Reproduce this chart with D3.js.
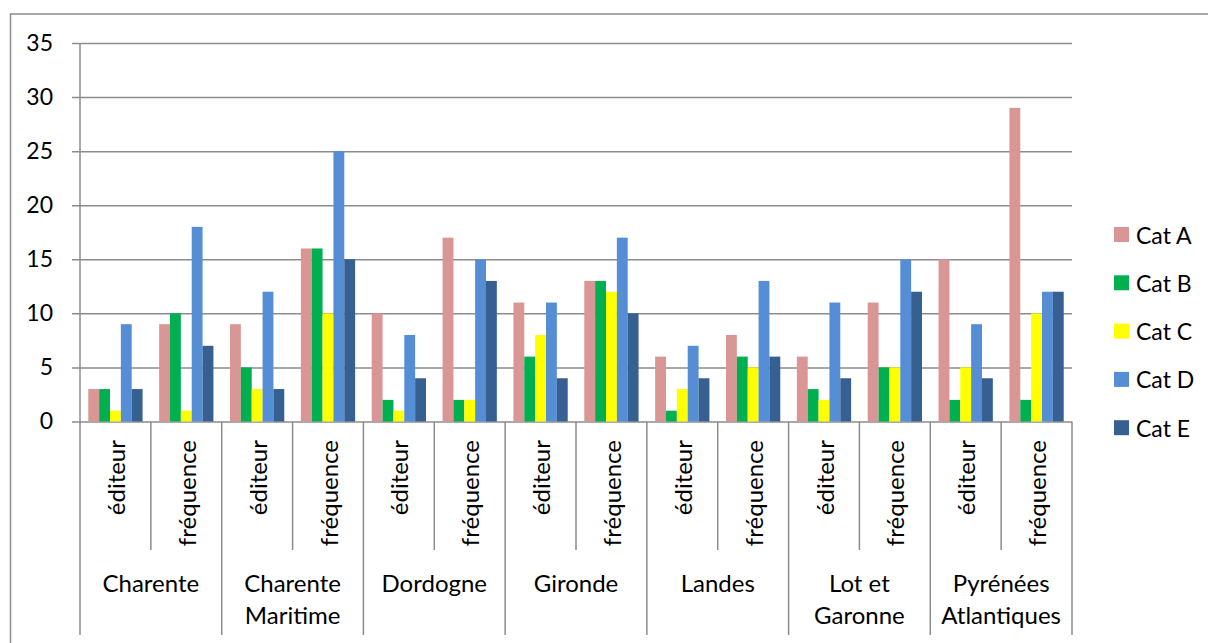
<!DOCTYPE html>
<html>
<head>
<meta charset="utf-8">
<script src="https://cdn.jsdelivr.net/npm/d3@7"></script>
<style>
  body { margin: 0; background: #fff; }
  svg text { font-family: Lato, "Open Sans", sans-serif; font-size: 23px; fill: #000; }
  svg text.xlab { font-size: 24px; }
</style>
</head>
<body>
<svg id="chart" width="1208" height="643"></svg>
<script>
const groups = ["Charente", "Charente\nMaritime", "Dordogne", "Gironde", "Landes", "Lot et\nGaronne", "Pyrénées\nAtlantiques"];
const subcats = ["éditeur", "fréquence"];
const series = ["Cat A", "Cat B", "Cat C", "Cat D", "Cat E"];
const colors = ["#d99694", "#00b050", "#ffff00", "#558ed5", "#376092"];

// one value per bar, in order: group1 éditeur, group1 fréquence, group2 éditeur ...
const catA = [3, 9, 9, 16, 10, 17, 11, 13, 6, 8, 6, 11, 15, 29];
const catB = [3, 10, 5, 16, 2, 2, 6, 13, 1, 6, 3, 5, 2, 2];
const catC = [1, 1, 3, 10, 1, 2, 8, 12, 3, 5, 2, 5, 5, 10];
const catD = [9, 18, 12, 25, 8, 15, 11, 17, 7, 13, 11, 15, 9, 12];
const catE = [3, 7, 3, 15, 4, 13, 4, 10, 4, 6, 4, 12, 4, 12];
const yTicks = [0, 5, 10, 15, 20, 25, 30, 35];

const values = [catA, catB, catC, catD, catE];
const svg = d3.select("#chart");

const plotLeft = 80, plotRight = 1072, plotTop = 43, plotBottom = 421.5;

// outer frame
svg.append("rect")
  .attr("x", 10.5).attr("y", 14)
  .attr("width", 1300).attr("height", 700)
  .attr("fill", "none")
  .attr("stroke", "#8c8c8c")
  .attr("stroke-width", 1.5);

const slots = d3.range(groups.length * subcats.length);

const x = d3.scaleBand()
  .domain(slots)
  .range([plotLeft, plotRight])
  .padding(0);

const bw = x.bandwidth();

const xInner = d3.scaleBand()
  .domain(series)
  .range([bw * 0.117, bw * 0.883])
  .padding(0);

const y = d3.scaleLinear()
  .domain([0, 35])
  .range([plotBottom, plotTop]);

// grid lines + tick labels
const yAxis = svg.append("g")
  .attr("transform", `translate(${plotRight},0)`)
  .call(d3.axisLeft(y).tickValues(yTicks).tickSize(plotRight - 72).tickPadding(19));
yAxis.select(".domain").remove();
yAxis.selectAll(".tick line").attr("stroke", "#8c8c8c").attr("stroke-width", 1.5);
yAxis.selectAll(".tick text")
  .style("font-size", "23px")
  .style("font-family", "Lato, sans-serif")
  .attr("fill", "#000");

// bars
series.forEach((s, si) => {
  svg.append("g")
    .selectAll("rect")
    .data(slots)
    .enter()
    .append("rect")
    .attr("x", d => x(d) + xInner(s))
    .attr("y", d => y(values[si][d]))
    .attr("width", xInner.bandwidth())
    .attr("height", d => y(0) - y(values[si][d]))
    .attr("fill", colors[si]);
});

// vertical axis line, running down through the label area
svg.append("line")
  .attr("x1", plotLeft).attr("x2", plotLeft)
  .attr("y1", plotTop).attr("y2", 635)
  .attr("stroke", "#8c8c8c").attr("stroke-width", 1.5);

// category separators
const bounds = d3.range(1, slots.length + 1);
svg.append("g")
  .selectAll("line")
  .data(bounds)
  .enter()
  .append("line")
  .attr("x1", d => d < slots.length ? x(d) : plotRight)
  .attr("x2", d => d < slots.length ? x(d) : plotRight)
  .attr("y1", plotBottom)
  .attr("y2", d => d % 2 === 0 ? 635 : 550)
  .attr("stroke", "#8c8c8c").attr("stroke-width", 1.5);

// sub-category labels (rotated)
svg.append("g")
  .selectAll("text")
  .data(slots)
  .enter()
  .append("text")
  .attr("class", "xlab")
  .attr("transform", d => `translate(${x(d) + bw / 2},440) rotate(-90)`)
  .attr("text-anchor", "end")
  .attr("dominant-baseline", "central")
  .text(d => subcats[d % 2]);

// group labels
groups.forEach((g, gi) => {
  const cx = x(gi * 2) + bw;
  g.split("\n").forEach((line, li) => {
    svg.append("text")
      .attr("class", "xlab")
      .attr("x", cx)
      .attr("y", 592 + li * 32)
      .attr("text-anchor", "middle")
      .text(line);
  });
});

// legend
const legend = svg.append("g");
series.forEach((s, i) => {
  const cy = 234.5 + i * 48.3;
  legend.append("rect")
    .attr("x", 1114).attr("y", cy - 7.5)
    .attr("width", 15).attr("height", 15)
    .attr("fill", colors[i]);
  legend.append("text")
    .attr("x", 1136).attr("y", cy)
    .attr("dominant-baseline", "central")
    .text(s);
});
</script>
</body>
</html>
